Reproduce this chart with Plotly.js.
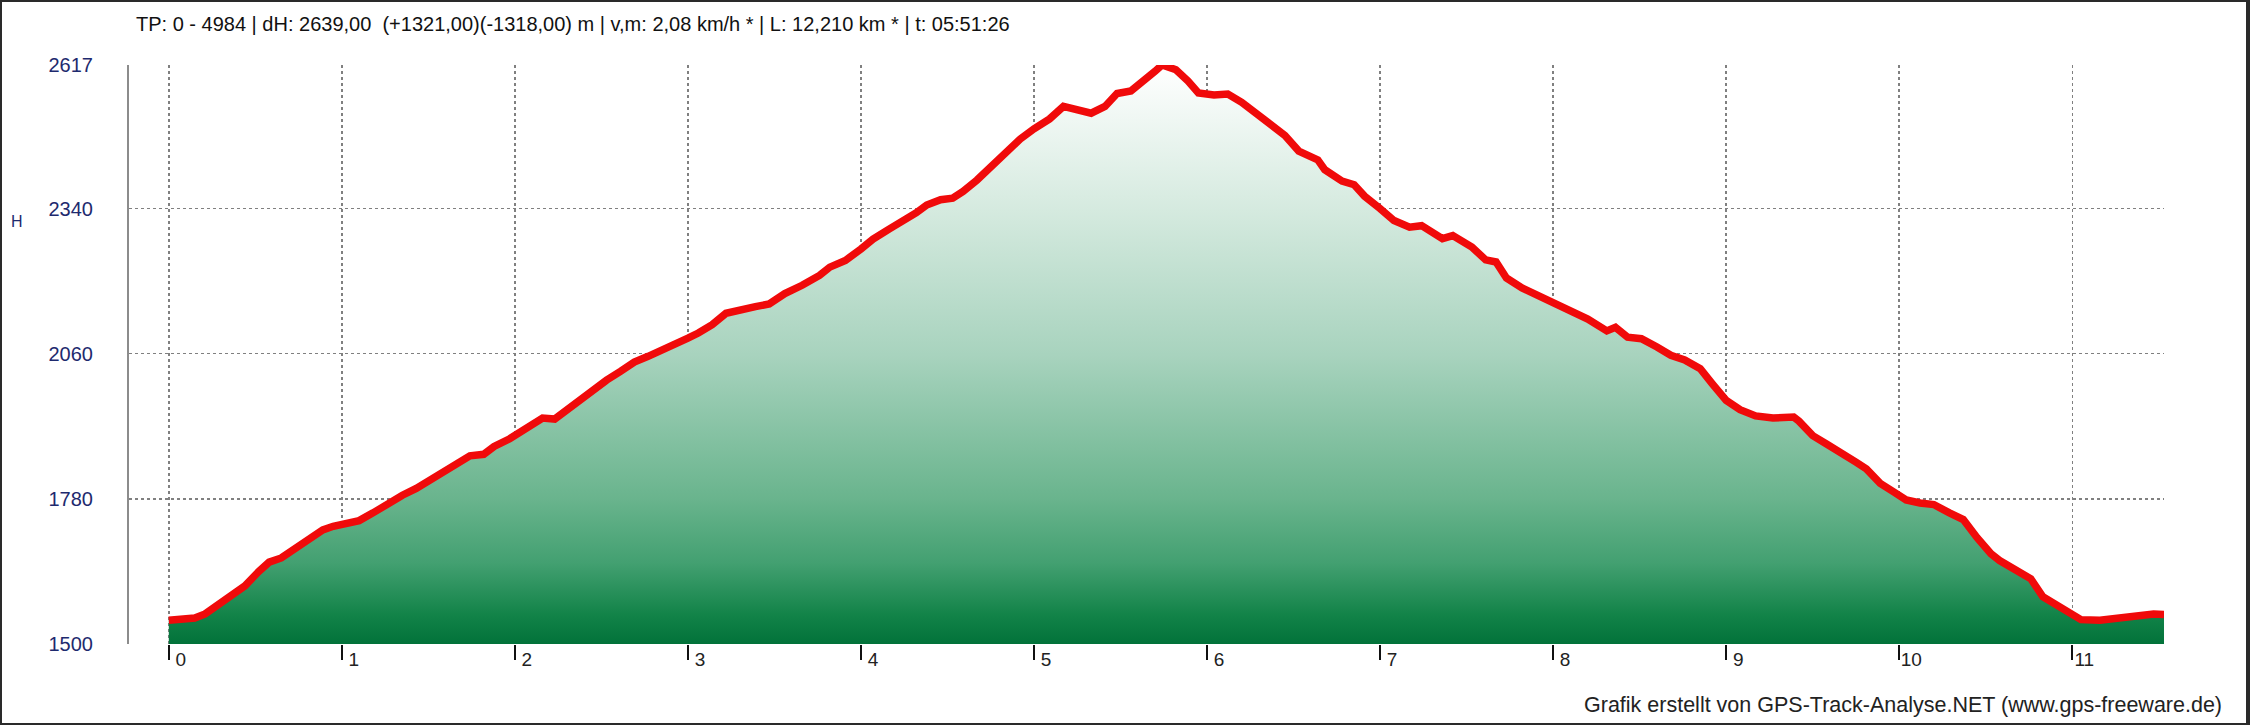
<!DOCTYPE html>
<html>
<head>
<meta charset="utf-8">
<script src="https://cdn.plot.ly/plotly-3.0.1.min.js"></script>
<style>
  html, body { margin: 0; padding: 0; background: #fff; }
  #wrap { position: relative; width: 2250px; height: 725px; }
  #chart { width: 2250px; height: 725px; }
  #frame { position: absolute; left: 0; top: 0; width: 2250px; height: 725px; box-sizing: border-box; border: 2px solid #2a2a2a; border-right-width: 4px; pointer-events: none; }
</style>
</head>
<body>
<div id="wrap"><div id="chart"></div><div id="frame"></div></div>
<script>
// ---- data ----
const distanceKm = [
  0.00, 0.08, 0.15, 0.21, 0.27, 0.35, 0.44, 0.52, 0.58, 0.65, 0.73, 0.81, 0.89, 0.95,
  1.00, 1.10, 1.18, 1.26, 1.35, 1.43, 1.51, 1.60, 1.68, 1.74, 1.82, 1.88, 1.97,
  2.05, 2.13, 2.16, 2.23, 2.30, 2.38, 2.46, 2.53, 2.61, 2.69, 2.77, 2.85, 2.93,
  3.00, 3.06, 3.14, 3.22, 3.31, 3.39, 3.47, 3.56, 3.66, 3.76, 3.82, 3.91,
  4.00, 4.07, 4.16, 4.24, 4.32, 4.38, 4.46, 4.53, 4.59, 4.67, 4.75, 4.84, 4.92,
  5.00, 5.09, 5.17, 5.25, 5.33, 5.41, 5.48, 5.56, 5.62, 5.70, 5.74, 5.82, 5.89, 5.95,
  6.04, 6.12, 6.20, 6.30, 6.37, 6.45, 6.53, 6.64, 6.68, 6.78, 6.85, 6.91,
  7.00, 7.08, 7.17, 7.24, 7.36, 7.42, 7.53, 7.61, 7.67, 7.73, 7.82, 7.92,
  8.00, 8.10, 8.20, 8.31, 8.36, 8.43, 8.51, 8.60, 8.68, 8.76, 8.85, 8.92,
  9.00, 9.08, 9.17, 9.27, 9.39, 9.42, 9.50, 9.58, 9.68, 9.75, 9.81, 9.89, 9.97,
  10.04, 10.12, 10.20, 10.29, 10.37, 10.45, 10.53, 10.58, 10.68, 10.76, 10.83, 10.91, 10.99,
  11.05, 11.16, 11.24, 11.35, 11.47, 11.53
];
const elevationM = [
  1546, 1547, 1550, 1558, 1572, 1592, 1612, 1640, 1658, 1666, 1683, 1702, 1720, 1727,
  1730, 1738, 1753, 1771, 1787, 1800, 1816, 1838, 1851, 1863, 1866, 1881, 1896,
  1914, 1928, 1936, 1934, 1952, 1971, 1990, 2009, 2026, 2044, 2055, 2066, 2080,
  2090, 2100, 2116, 2138, 2143, 2151, 2156, 2176, 2192, 2211, 2227, 2240,
  2262, 2281, 2300, 2315, 2332, 2347, 2357, 2360, 2373, 2395, 2420, 2446, 2474,
  2494, 2513, 2537, 2529, 2524, 2537, 2562, 2567, 2582, 2605, 2617, 2608, 2586, 2563,
  2559, 2561, 2545, 2519, 2500, 2481, 2451, 2434, 2415, 2393, 2386, 2364,
  2340, 2317, 2304, 2307, 2282, 2288, 2266, 2241, 2237, 2206, 2187, 2171,
  2158, 2143, 2127, 2104, 2111, 2092, 2089, 2073, 2057, 2048, 2031, 2002,
  1970, 1952, 1940, 1936, 1938, 1930, 1902, 1886, 1867, 1851, 1838, 1810, 1793,
  1778, 1772, 1769, 1753, 1740, 1705, 1674, 1661, 1642, 1626, 1591, 1575, 1560,
  1547, 1546, 1550, 1555, 1558, 1557
];
const yTickValues = [1500, 1780, 2060, 2340, 2617];
const xTickValues = [0, 1, 2, 3, 4, 5, 6, 7, 8, 9, 10, 11];
const xTickLabels = ["0", "1", "2", "3", "4", "5", "6", "7", "8", "9", "10", "11"];
const headerText = "TP: 0 - 4984 | dH: 2639,00  (+1321,00)(-1318,00) m | v,m: 2,08 km/h * | L: 12,210 km * | t: 05:51:26";
const yAxisLabel = "H";
const creditText = "Grafik erstellt von GPS-Track-Analyse.NET (www.gps-freeware.de)";

// ---- layout geometry ----
const W = 2250, H = 725;
const mL = 129, mR = 86, mT = 65, mB = 81;
const pw = W - mL - mR, ph = H - mT - mB;
const px2paperX = x => (x - mL) / pw;
const px2paperY = y => 1 - (y - mT) / ph;

const yMin = Math.min(...yTickValues), yMax = Math.max(...yTickValues);

const fillTrace = {
  x: distanceKm, y: elevationM,
  type: 'scatter', mode: 'lines',
  line: { width: 0, color: 'rgba(0,0,0,0)' },
  fill: 'tozeroy',
  fillgradient: {
    type: 'vertical',
    start: yMin, stop: yMax,
    colorscale: [
      [0.00, '#02723a'],
      [0.05, '#128348'],
      [0.14, '#43a071'],
      [0.25, '#69b48d'],
      [0.50, '#a8d3be'],
      [0.75, '#d5eadf'],
      [1.00, '#ffffff']
    ]
  },
  hoverinfo: 'skip', showlegend: false
};
const lineTrace = {
  x: distanceKm, y: elevationM,
  type: 'scatter', mode: 'lines',
  line: { width: 7.5, color: '#f00a0a', shape: 'linear' },
  showlegend: false
};

const layout = {
  width: W, height: H,
  margin: { l: mL, r: mR, t: mT, b: mB, pad: 0 },
  paper_bgcolor: '#ffffff', plot_bgcolor: '#ffffff',
  font: { family: 'Liberation Sans, Arial, sans-serif', color: '#111' },
  title: {
    text: headerText,
    xref: 'container', yref: 'container',
    x: 136 / W, xanchor: 'left',
    y: 1 - 24 / H, yanchor: 'middle',
    font: { size: 20, color: '#111', family: 'Liberation Sans, Arial, sans-serif' }
  },
  xaxis: {
    range: [-0.23, 11.53],
    tickvals: xTickValues, ticktext: xTickLabels,
    showgrid: true, gridcolor: '#808080', griddash: 'dot', gridwidth: 1.5,
    zeroline: false, showline: false,
    ticks: 'outside', ticklen: 15, tickwidth: 2, tickcolor: '#111',
    ticklabelshift: 12, ticklabelstandoff: -17,
    tickfont: { size: 19, color: '#222' },
    fixedrange: true
  },
  yaxis: {
    range: [yMin, yMax],
    tickvals: yTickValues,
    showgrid: true, gridcolor: '#808080', griddash: 'dot', gridwidth: 1.5,
    zeroline: false,
    showline: true, linecolor: '#8c8c8c', linewidth: 2,
    ticks: '', ticklabelstandoff: 30,
    tickfont: { size: 20, color: '#1e2a6e' },
    fixedrange: true
  },
  annotations: [
    {
      text: yAxisLabel, xref: 'paper', yref: 'paper',
      x: px2paperX(17), y: px2paperY(222), xanchor: 'center', yanchor: 'middle',
      showarrow: false, font: { size: 16, color: '#1e2a6e' }
    },
    {
      text: creditText, xref: 'paper', yref: 'paper',
      x: px2paperX(2224), y: px2paperY(705), xanchor: 'right', yanchor: 'middle',
      showarrow: false, font: { size: 21.5, color: '#222' }
    }
  ],
  showlegend: false
};

Plotly.newPlot('chart', [fillTrace, lineTrace], layout, { staticPlot: true, displayModeBar: false });
</script>
</body>
</html>
